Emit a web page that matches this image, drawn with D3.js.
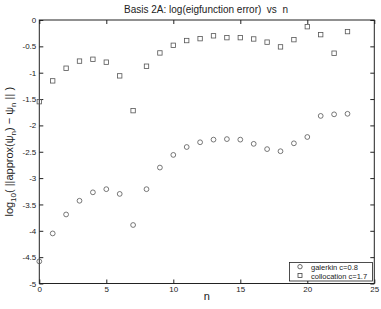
<!DOCTYPE html>
<html>
<head>
<meta charset="utf-8">
<script src="https://cdn.jsdelivr.net/npm/d3@7"></script>
<style>
  body { margin: 0; background: #fff; }
  text { font-family: "Liberation Sans", Arial, sans-serif; fill: #222; }
</style>
</head>
<body>
<div id="chart"></div>
<script>
var nValues = [0, 1, 2, 3, 4, 5, 6, 7, 8, 9, 10, 11, 12, 13, 14, 15, 16, 17, 18, 19, 20, 21, 22, 23];
var galerkin = [-4.58, -4.05, -3.69, -3.43, -3.27, -3.21, -3.30, -3.89, -3.21, -2.80, -2.56, -2.41, -2.32, -2.27, -2.26, -2.27, -2.35, -2.45, -2.49, -2.34, -2.22, -1.82, -1.79, -1.78];
var collocation = [-1.55, -1.155, -0.915, -0.78, -0.745, -0.80, -1.06, -1.72, -0.877, -0.625, -0.48, -0.39, -0.354, -0.30, -0.335, -0.335, -0.36, -0.42, -0.51, -0.373, -0.127, -0.278, -0.63, -0.22];
var xTicks = [0, 5, 10, 15, 20, 25];
var yTicks = [0, -0.5, -1, -1.5, -2, -2.5, -3, -3.5, -4, -4.5, -5];
var seriesNames = ["galerkin c=0.8", "collocation c=1.7"];

var width = 381, height = 309;
var plotL = 39.3, plotR = 374.3, plotT = 20, plotB = 283.5;

var x = d3.scaleLinear().domain([0, 25]).range([plotL, plotR]);
var y = d3.scaleLinear().domain([-5, 0]).range([plotB, plotT]);

var svg = d3.select("#chart").append("svg")
  .attr("width", width)
  .attr("height", height);

// frame
svg.append("rect")
  .attr("x", plotL).attr("y", plotT)
  .attr("width", plotR - plotL).attr("height", plotB - plotT)
  .attr("fill", "none").attr("stroke", "#222").attr("stroke-width", 1);

var fmt = function(d) { return String(d); };

// axes, MATLAB style: ticks pointing inward on all sides
var xBottom = svg.append("g").attr("transform", "translate(0," + plotB + ")")
  .call(d3.axisBottom(x).tickValues(xTicks).tickSize(-4).tickPadding(3).tickFormat(fmt));
var xTop = svg.append("g").attr("transform", "translate(0," + plotT + ")")
  .call(d3.axisTop(x).tickValues(xTicks).tickSize(-4).tickFormat(""));
var yLeft = svg.append("g").attr("transform", "translate(" + plotL + ",0)")
  .call(d3.axisLeft(y).tickValues(yTicks).tickSize(-4).tickPadding(3).tickFormat(fmt));
var yRight = svg.append("g").attr("transform", "translate(" + plotR + ",0)")
  .call(d3.axisRight(y).tickValues(yTicks).tickSize(-4).tickFormat(""));

[xBottom, xTop, yLeft, yRight].forEach(function(g) {
  g.select(".domain").remove();
  g.selectAll(".tick line").attr("stroke", "#222");
  g.selectAll(".tick text").style("font-size", "8px").attr("fill", "#333");
});

// markers
svg.append("g").selectAll("circle")
  .data(galerkin)
  .enter().append("circle")
  .attr("cx", function(d, i) { return x(nValues[i]); })
  .attr("cy", function(d) { return y(d); })
  .attr("r", 2.4)
  .attr("fill", "none").attr("stroke", "#555").attr("stroke-width", 0.8);

svg.append("g").selectAll("rect")
  .data(collocation)
  .enter().append("rect")
  .attr("x", function(d, i) { return x(nValues[i]) - 2.2; })
  .attr("y", function(d) { return y(d) - 2.2; })
  .attr("width", 4.4).attr("height", 4.4)
  .attr("fill", "none").attr("stroke", "#555").attr("stroke-width", 0.8);

// title
svg.append("text")
  .attr("x", 206).attr("y", 13)
  .attr("text-anchor", "middle")
  .attr("xml:space", "preserve")
  .style("font-size", "10px")
  .text("Basis 2A: log(eigfunction error)  vs  n");

// x label
svg.append("text")
  .attr("x", (plotL + plotR) / 2).attr("y", 300)
  .attr("text-anchor", "middle")
  .style("font-size", "11px")
  .text("n");

// y label with subscripts
var yl = svg.append("text")
  .attr("transform", "translate(13," + ((plotT + plotB) / 2) + ") rotate(-90)")
  .attr("text-anchor", "middle")
  .style("font-size", "11px");
yl.append("tspan").text("log");
yl.append("tspan").attr("dy", 3).style("font-size", "8px").text("10");
yl.append("tspan").attr("dy", -3).text("( ||approx(\u03C8");
yl.append("tspan").attr("dy", 3).style("font-size", "8px").text("n");
yl.append("tspan").attr("dy", -3).text(") \u2212 \u03C8");
yl.append("tspan").attr("dy", 3).style("font-size", "8px").text("n");
yl.append("tspan").attr("dy", -3).text(" || )");

// legend
var lg = svg.append("g");
lg.append("rect")
  .attr("x", 289.5).attr("y", 262.5)
  .attr("width", 83).attr("height", 18.5)
  .attr("fill", "#fff").attr("stroke", "#222").attr("stroke-width", 0.8);
lg.append("circle").attr("cx", 300).attr("cy", 266.7).attr("r", 2.2)
  .attr("fill", "none").attr("stroke", "#444").attr("stroke-width", 0.8);
lg.append("rect").attr("x", 298).attr("y", 273.5).attr("width", 4).attr("height", 4)
  .attr("fill", "none").attr("stroke", "#444").attr("stroke-width", 0.8);
lg.selectAll("text.lab")
  .data(seriesNames)
  .enter().append("text")
  .attr("class", "lab")
  .attr("x", 311)
  .attr("y", function(d, i) { return 269.5 + i * 9; })
  .style("font-size", "7.5px")
  .text(function(d) { return d; });
</script>
</body>
</html>
